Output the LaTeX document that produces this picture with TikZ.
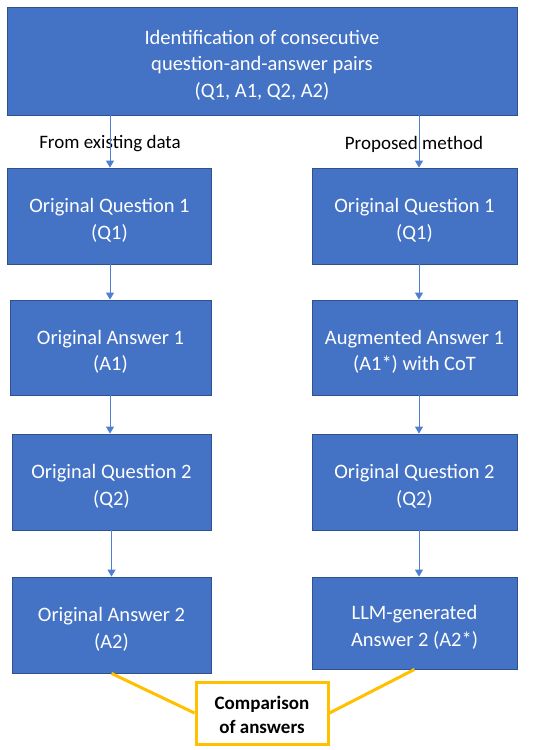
\documentclass[tikz,border=0pt]{standalone}
\usepackage{fontspec}
\setmainfont{Carlito}
\usetikzlibrary{arrows.meta}
\definecolor{boxblue}{HTML}{4472C4}
\definecolor{boxedge}{HTML}{2F528F}
\definecolor{arrblue}{HTML}{4F7FD0}
\definecolor{ygold}{HTML}{FFC000}
\newcommand{\lineup}[1]{\rule{0pt}{#1}}
\tikzset{
  bluebox/.style={draw=boxedge, line width=0.8pt, fill=boxblue, text=white, align=center,
    font=\fontsize{20.5}{26.5}\selectfont, inner sep=0pt},
  lbl/.style={text=black, font=\fontsize{19}{23}\selectfont, inner sep=0pt},
  arr/.style={draw=arrblue, line width=0.8pt, -{Triangle[length=7pt,width=8pt]}},
  glink/.style={draw=ygold, line width=3pt},
  cmpbox/.style={draw=ygold, line width=3pt, fill=white, text=black, align=center,
    font=\bfseries\fontsize{19}{24}\selectfont, inner sep=0pt}
}
\begin{document}
\begin{tikzpicture}[x=1pt,y=-1pt]
\useasboundingbox (0,0) rectangle (550,750);
\fill[white] (0,0) rectangle (550,750);
\node[bluebox, minimum width=510pt, minimum height=108pt] (top) at (262,61)
  {\lineup{22pt}Identification of consecutive\\question-and-answer pairs\\(Q1, A1, Q2, A2)};
\node[bluebox, minimum width=204pt, minimum height=96pt] (lq1) at (109.5,216) {\lineup{23pt}Original Question 1\\(Q1)};
\node[bluebox, minimum width=205pt, minimum height=96pt] (rq1) at (414.5,216) {\lineup{23pt}Original Question 1\\(Q1)};
\node[bluebox, minimum width=201pt, minimum height=95pt] (la1) at (110.5,347.5) {\lineup{23pt}Original Answer 1\\(A1)};
\node[bluebox, minimum width=205pt, minimum height=95pt] (ra1) at (414.5,347.5) {\lineup{23pt}Augmented Answer 1\\(A1*) with CoT};
\node[bluebox, minimum width=199pt, minimum height=96pt] (lq2) at (111.5,482) {\lineup{23pt}Original Question 2\\(Q2)};
\node[bluebox, minimum width=205pt, minimum height=96pt] (rq2) at (414.5,482) {\lineup{23pt}Original Question 2\\(Q2)};
\node[bluebox, minimum width=199pt, minimum height=96pt] (la2) at (111.5,625) {\lineup{23pt}Original Answer 2\\(A2)};
\node[bluebox, minimum width=205pt, minimum height=92pt] (ra2) at (414.5,623) {\lineup{23pt}LLM-generated\\Answer 2 (A2*)};
\node[lbl] (lfrom) at (110,144) {From existing data};
\node[lbl] (lprop) at (414,144) {Proposed method};
\coordinate (xl) at (110,0);
\coordinate (xr) at (419,0);
\draw[arr] (top.south -| xl) -- (lq1.north -| xl);
\draw[arr] (lq1.south -| xl) -- (la1.north -| xl);
\draw[arr] (la1.south -| xl) -- (lq2.north -| xl);
\draw[arr] (lq2.south -| lq2.north) -- (la2.north);
\draw[arr] (top.south -| xr) -- (rq1.north -| xr);
\draw[arr] (rq1.south -| xr) -- (ra1.north -| xr);
\draw[arr] (ra1.south -| xr) -- (rq2.north -| xr);
\draw[arr] (rq2.south -| xr) -- (ra2.north -| xr);
\node[cmpbox, minimum width=132pt, minimum height=62pt] (cmp) at (262,713) {\lineup{17.5pt}Comparison\\of answers};
\draw[glink] (la2.south) -- (cmp.west);
\draw[glink] (ra2.south) -- (cmp.east);
\node[cmpbox, minimum width=132pt, minimum height=62pt] at (cmp) {\lineup{17.5pt}Comparison\\of answers};
\end{tikzpicture}
\end{document}
